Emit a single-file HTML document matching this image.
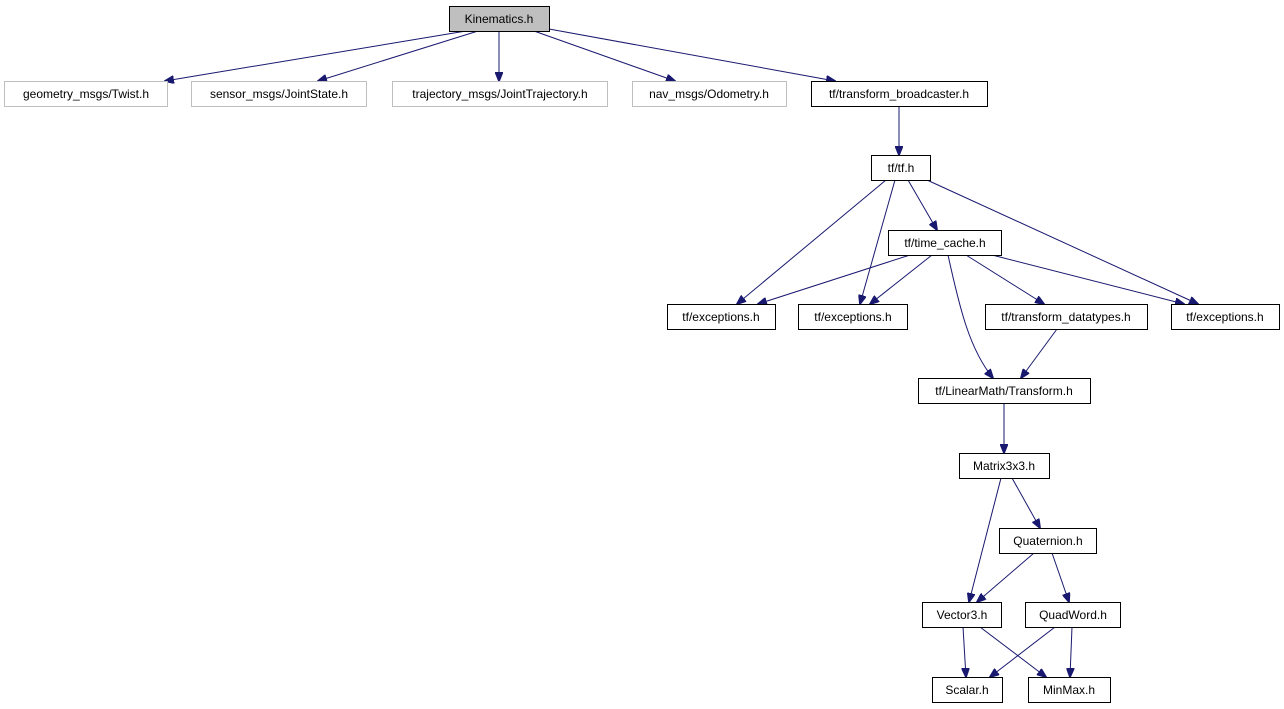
<!DOCTYPE html>
<html><head><meta charset="utf-8"><style>
html,body{margin:0;padding:0;background:#fff;}
svg{display:block;}
text{font-family:"Liberation Sans",sans-serif;font-size:12px;fill:#000;text-anchor:middle;}
.n{fill:#fff;stroke:#000;stroke-width:1;}
.g{fill:#fff;stroke:#bfbfbf;stroke-width:1;}
.e{stroke:#191970;stroke-width:1;fill:none;marker-end:url(#a);}
</style></head><body>
<svg width="1284" height="709" viewBox="0 0 1284 709">
<defs><marker id="a" markerWidth="10" markerHeight="8" refX="9" refY="4" orient="auto" markerUnits="userSpaceOnUse"><path d="M0,0 L10,4 L0,8 z" fill="#191970" stroke="#191970"/></marker></defs>
<!-- edges -->
<line class="e" x1="466" y1="31" x2="165" y2="81"/>
<line class="e" x1="478" y1="31" x2="318" y2="81"/>
<line class="e" x1="499" y1="31" x2="499" y2="81"/>
<line class="e" x1="534" y1="31" x2="675" y2="81"/>
<line class="e" x1="549" y1="29" x2="835" y2="81"/>
<line class="e" x1="899" y1="106" x2="899" y2="155"/>
<line class="e" x1="886" y1="180" x2="737" y2="304"/>
<line class="e" x1="895" y1="180" x2="860" y2="304"/>
<line class="e" x1="908" y1="180" x2="937" y2="230"/>
<line class="e" x1="927" y1="180" x2="1198" y2="304"/>
<line class="e" x1="910" y1="255" x2="758" y2="304"/>
<line class="e" x1="932" y1="255" x2="870" y2="304"/>
<path class="e" d="M948,255 C960,310 970,350 993,378"/>
<line class="e" x1="966" y1="255" x2="1044" y2="304"/>
<line class="e" x1="992" y1="255" x2="1184" y2="304"/>
<line class="e" x1="1057" y1="329" x2="1021" y2="378"/>
<line class="e" x1="1004" y1="403" x2="1004" y2="453"/>
<line class="e" x1="1012" y1="478" x2="1040" y2="528"/>
<line class="e" x1="1001" y1="478" x2="969" y2="602"/>
<line class="e" x1="1034" y1="553" x2="977" y2="602"/>
<line class="e" x1="1052" y1="553" x2="1069" y2="602"/>
<line class="e" x1="963" y1="627" x2="966" y2="677"/>
<line class="e" x1="980" y1="627" x2="1046" y2="677"/>
<line class="e" x1="1055" y1="627" x2="990" y2="677"/>
<line class="e" x1="1072" y1="627" x2="1070" y2="677"/>
<!-- nodes -->
<rect x="449.5" y="6.5" width="100" height="25" fill="#bfbfbf" stroke="#000"/><text x="499" y="23">Kinematics.h</text>
<rect class="g" x="4.5" y="81.5" width="163" height="25"/><text x="86" y="98">geometry_msgs/Twist.h</text>
<rect class="g" x="191.5" y="81.5" width="175" height="25"/><text x="279" y="98">sensor_msgs/JointState.h</text>
<rect class="g" x="392.5" y="81.5" width="215" height="25"/><text x="500" y="98">trajectory_msgs/JointTrajectory.h</text>
<rect class="g" x="632.5" y="81.5" width="154" height="25"/><text x="709" y="98">nav_msgs/Odometry.h</text>
<rect class="n" x="811.5" y="81.5" width="176" height="25"/><text x="899" y="98">tf/transform_broadcaster.h</text>
<rect class="n" x="871.5" y="155.5" width="59" height="25"/><text x="901" y="172">tf/tf.h</text>
<rect class="n" x="888.5" y="230.5" width="113" height="25"/><text x="945" y="247">tf/time_cache.h</text>
<rect class="n" x="667.5" y="304.5" width="108" height="25"/><text x="721" y="321">tf/exceptions.h</text>
<rect class="n" x="798.5" y="304.5" width="109" height="25"/><text x="853" y="321">tf/exceptions.h</text>
<rect class="n" x="985.5" y="304.5" width="162" height="25"/><text x="1066" y="321">tf/transform_datatypes.h</text>
<rect class="n" x="1171.5" y="304.5" width="108" height="25"/><text x="1225" y="321">tf/exceptions.h</text>
<rect class="n" x="918.5" y="378.5" width="172" height="25"/><text x="1004" y="395">tf/LinearMath/Transform.h</text>
<rect class="n" x="959.5" y="453.5" width="90" height="25"/><text x="1004" y="470">Matrix3x3.h</text>
<rect class="n" x="999.5" y="528.5" width="97" height="25"/><text x="1048" y="545">Quaternion.h</text>
<rect class="n" x="922.5" y="602.5" width="79" height="25"/><text x="962" y="619">Vector3.h</text>
<rect class="n" x="1025.5" y="602.5" width="95" height="25"/><text x="1073" y="619">QuadWord.h</text>
<rect class="n" x="932.5" y="677.5" width="70" height="25"/><text x="967" y="694">Scalar.h</text>
<rect class="n" x="1028.5" y="677.5" width="82" height="25"/><text x="1069" y="694">MinMax.h</text>
</svg>
</body></html>
